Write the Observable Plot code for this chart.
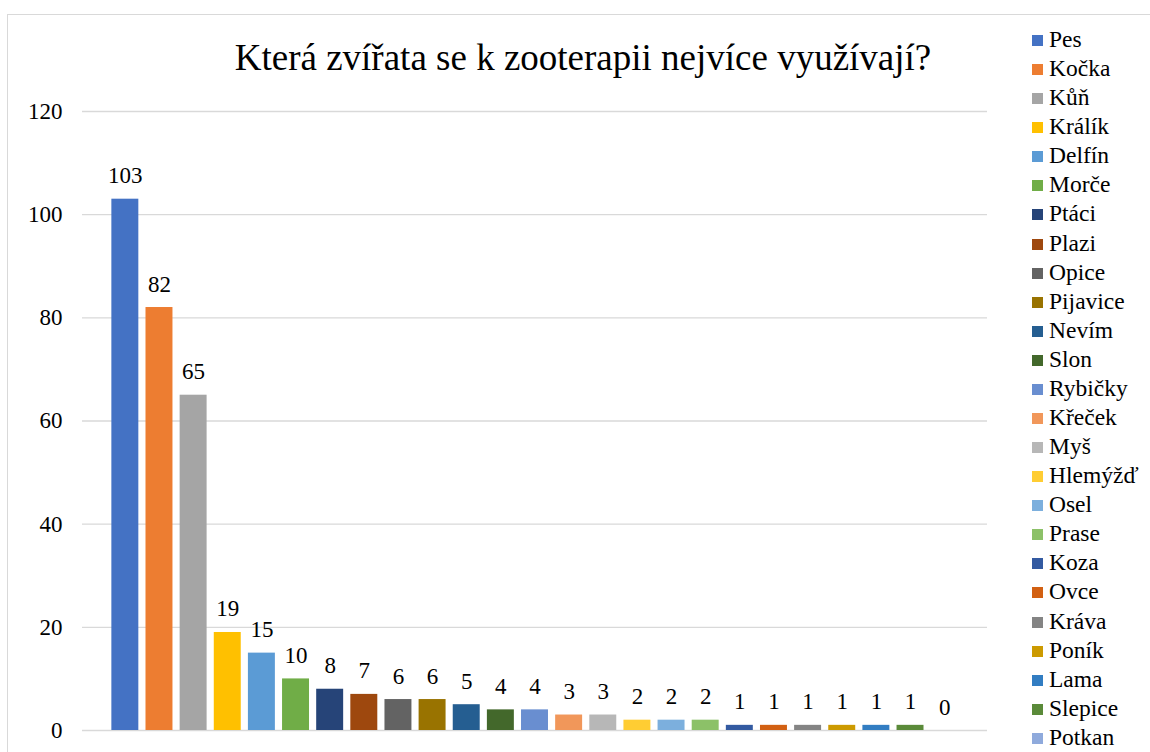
<!DOCTYPE html>
<html>
<head>
<meta charset="utf-8">
<script src="https://cdn.jsdelivr.net/npm/d3@7"></script>
<script src="https://cdn.jsdelivr.net/npm/@observablehq/plot@0.6"></script>
<style>
  body { margin: 0; background: #fff; }
  #wrap { position: relative; width: 1150px; height: 752px; overflow: hidden; font-family: "Liberation Serif", "Times New Roman", serif; color: #000; }
  #frame { position: absolute; left: 7px; top: 14px; width: 1250px; height: 800px; border: 1.5px solid #d9d9d9; box-sizing: border-box; }
  #chart { position: absolute; left: 0; top: 0; }
  #title { position: absolute; left: 0; width: 1166px; top: 39px; text-align: center; font-size: 37px; line-height: 37px; white-space: nowrap; }
  #legend { position: absolute; left: 1032px; top: 25px; }
  .row { position: relative; height: 29.08px; width: 118px; }
  .sw { position: absolute; left: 0; top: 10px; width: 11px; height: 11px; }
  .lb { position: absolute; left: 17px; top: 0; font-size: 23.5px; line-height: 29px; white-space: nowrap; }
</style>
</head>
<body>
<div id="wrap">
  <div id="frame"></div>
  <div id="chart"></div>
  <div id="title">Která zvířata se k zooterapii nejvíce využívají?</div>
  <div id="legend"></div>
</div>
<script>
const animals = ["Pes", "Kočka", "Kůň", "Králík", "Delfín", "Morče", "Ptáci", "Plazi", "Opice", "Pijavice", "Nevím", "Slon", "Rybičky", "Křeček", "Myš", "Hlemýžď", "Osel", "Prase", "Koza", "Ovce", "Kráva", "Poník", "Lama", "Slepice", "Potkan"];
const counts = [103, 82, 65, 19, 15, 10, 8, 7, 6, 6, 5, 4, 4, 3, 3, 2, 2, 2, 1, 1, 1, 1, 1, 1, 0];
const colors = ["#4472C4", "#ED7D31", "#A5A5A5", "#FFC000", "#5B9BD5", "#70AD47", "#264478", "#9E480E", "#636363", "#997300", "#255E91", "#43682B", "#698ED0", "#F1975A", "#B7B7B7", "#FFCD33", "#7CAFDD", "#8CC168", "#335AA1", "#D26012", "#848484", "#CC9A00", "#327DC2", "#5A8A39", "#8FAADC"];
const yTicks = [0, 20, 40, 60, 80, 100, 120];

const data = animals.map((name, i) => ({name, value: counts[i]}));

const chart = Plot.plot({
  width: 1150,
  height: 752,
  marginTop: 111,
  marginBottom: 22,
  marginLeft: 82,
  marginRight: 163,
  style: {fontFamily: "'Liberation Serif', 'Times New Roman', serif", fontSize: "23px", color: "#000", background: "transparent"},
  x: {domain: animals, paddingInner: 0.21, paddingOuter: 0.86, round: false, axis: null},
  y: {domain: [0, 120], label: null},
  color: {domain: animals, range: colors},
  marks: [
    Plot.gridY(yTicks, {stroke: "#d9d9d9", strokeOpacity: 1, strokeWidth: 1.4}),
    Plot.barY(data, {x: "name", y: "value", fill: "name"}),
    Plot.text(data, {x: "name", y: "value", text: d => String(d.value), lineAnchor: "bottom", dy: -16, fontSize: 23, fill: "#000"}),
    Plot.axisY({ticks: yTicks, tickSize: 0, tickPadding: 20, fontSize: 23, fill: "#000", label: null})
  ]
});
document.getElementById("chart").appendChild(chart);

const legend = d3.select("#legend");
animals.forEach((name, i) => {
  const row = legend.append("div").attr("class", "row");
  row.append("span").attr("class", "sw").style("background", colors[i]);
  row.append("span").attr("class", "lb").text(name);
});
</script>
</body>
</html>
